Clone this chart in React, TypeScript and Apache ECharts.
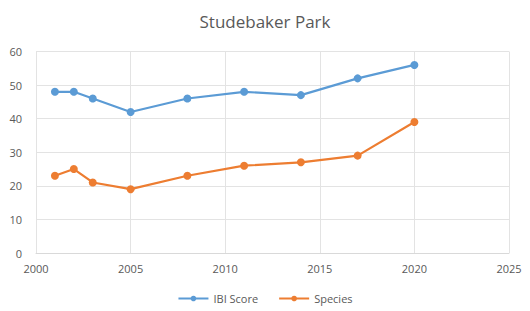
import React, { useEffect, useRef } from "react";
import * as echarts from "echarts";

const years = [2001, 2002, 2003, 2005, 2008, 2011, 2014, 2017, 2020];
const ibiScore = [48, 48, 46, 42, 46, 48, 47, 52, 56];
const species = [23, 25, 21, 19, 23, 26, 27, 29, 39];
const titleText = "Studebaker Park";
const seriesNames = ["IBI Score", "Species"];

export default function App() {
  const ref = useRef<HTMLDivElement>(null);
  useEffect(() => {
    if (!ref.current) return;
    const chart = echarts.init(ref.current, null, { renderer: "svg" });
    const font = "'Open Sans', 'Liberation Sans', sans-serif";
    chart.setOption({
      animation: false,
      backgroundColor: "#ffffff",
      title: {
        text: titleText,
        left: "center",
        top: 8,
        textStyle: { fontFamily: font, fontSize: 17, fontWeight: "normal", color: "#595959" },
      },
      legend: {
        bottom: 2,
        left: "center",
        itemWidth: 30,
        itemHeight: 7,
        itemGap: 20,
        textStyle: { fontFamily: font, fontSize: 11, color: "#595959" },
        data: seriesNames,
      },
      grid: { left: 36, right: 21, top: 51.5, bottom: 58, containLabel: false },
      xAxis: {
        type: "value",
        min: 2000,
        max: 2025,
        interval: 5,
        axisLine: { show: true, lineStyle: { color: "#d9d9d9" } },
        axisTick: { show: false },
        splitLine: { show: true, lineStyle: { color: "#e3e3e3" } },
        axisLabel: { fontFamily: font, fontSize: 11, color: "#595959", margin: 10, formatter: (v: number) => String(v) },
      },
      yAxis: {
        type: "value",
        min: 0,
        max: 60,
        interval: 10,
        axisLine: { show: false },
        axisTick: { show: false },
        splitLine: { show: true, lineStyle: { color: "#e3e3e3" } },
        axisLabel: { fontFamily: font, fontSize: 11, color: "#595959", margin: 14 },
      },
      series: [
        {
          name: seriesNames[0],
          type: "line",
          data: years.map((y, i) => [y, ibiScore[i]]),
          symbol: "circle",
          symbolSize: 8,
          lineStyle: { width: 2.2, color: "#5B9BD5" },
          itemStyle: { color: "#5B9BD5" },
        },
        {
          name: seriesNames[1],
          type: "line",
          data: years.map((y, i) => [y, species[i]]),
          symbol: "circle",
          symbolSize: 8,
          lineStyle: { width: 2.2, color: "#ED7D31" },
          itemStyle: { color: "#ED7D31" },
        },
      ],
    });
    return () => chart.dispose();
  }, []);
  return <div ref={ref} style={{ width: 530, height: 311, position: "absolute", left: 0, top: 0 }} />;
}
